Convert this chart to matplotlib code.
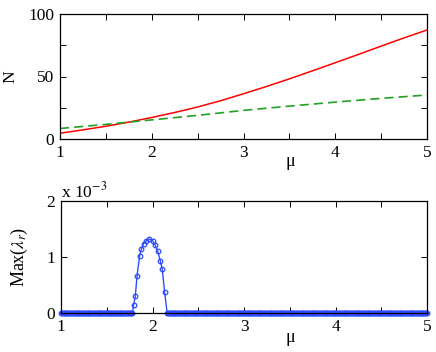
import numpy as np
import matplotlib.pyplot as plt
from matplotlib.ticker import MultipleLocator

# top panel: N versus mu
mu_red = [1.0, 1.25, 1.5, 1.75, 2.0, 2.25, 2.5, 2.75, 3.0,
          3.25, 3.5, 3.75, 4.0, 4.25, 4.5, 4.75, 5.0]
n_red = [4.6, 7.3, 10.2, 13.5, 17.2, 21.2, 25.6, 30.6, 36.2,
         42.0, 48.1, 54.5, 61.0, 67.6, 74.3, 80.9, 87.2]
mu_green = [1.0, 1.5, 2.0, 2.5, 3.0, 3.5, 4.0, 4.5, 5.0]
n_green = [8.4, 11.7, 15.3, 18.9, 22.9, 26.3, 29.5, 32.5, 35.2]

# bottom panel: max real part of eigenvalues (units of 1e-3)
mu_bump = [1.793, 1.812, 1.831, 1.859, 1.878, 1.903, 1.932, 1.965,
           2.001, 2.031, 2.056, 2.085, 2.107, 2.132]
lam_bump = [0.14, 0.30, 0.66, 1.02, 1.14, 1.24, 1.29, 1.32,
            1.29, 1.21, 1.11, 0.93, 0.78, 0.38]
mu_zero_left = np.arange(1.0, 1.781, 0.01)
mu_zero_right = np.arange(2.16, 5.001, 0.01)

mu_low = np.concatenate([mu_zero_left, mu_bump, mu_zero_right])
lam_low = np.concatenate([np.zeros(len(mu_zero_left)), lam_bump,
                          np.zeros(len(mu_zero_right))])

plt.rcParams['font.family'] = ['Liberation Serif', 'DejaVu Serif']
plt.rcParams['font.size'] = 12.5
plt.rcParams['mathtext.fontset'] = 'stix'

W, H = 436, 352
fig = plt.figure(figsize=(W / 100, H / 100), dpi=100)
ax1 = fig.add_axes([60 / W, 1 - 139 / H, 367 / W, 125 / H])
ax2 = fig.add_axes([61 / W, 1 - 313 / H, 366 / W, 112 / H])

ax1.plot(mu_red, n_red, color='#ff0000', lw=1.1)
ax1.plot(mu_green, n_green, color='#22a022', lw=1.2, ls=(0, (5.5, 3)))
ax1.set_xlim(1, 5)
ax1.set_ylim(0, 100)
ax1.set_yticks([0, 50, 100])
ax1.yaxis.set_minor_locator(MultipleLocator(25))
ax1.set_ylabel('N', labelpad=7)
fig.text(290 / W, 1 - 162 / H, 'μ', ha='center', va='center', fontsize=13)

ax2.plot(mu_low, lam_low, color='#2d4cff', lw=1.0, marker='o', ms=3.3,
         mfc='none', mec='#2d4cff', mew=0.9, clip_on=False)
ax2.set_xlim(1, 5)
ax2.set_ylim(0, 2)
ax2.set_yticks([0, 1, 2])
ax2.set_ylabel(r'Max($\lambda_r$)', labelpad=12, fontsize=13)
fig.text(290 / W, 1 - 338 / H, 'μ', ha='center', va='center', fontsize=13)
ax2.text(0.0, 1.0, r'x 10$^{-3}$', transform=ax2.transAxes,
         ha='left', va='bottom', fontsize=12.5)

for ax in (ax1, ax2):
    ax.set_xticks([1, 2, 3, 4, 5])
    ax.xaxis.set_minor_locator(MultipleLocator(0.5))
    ax.tick_params(which='both', direction='in', top=True, right=True,
                   length=4, width=0.7, labelsize=12.5, pad=4)
    for s in ax.spines.values():
        s.set_linewidth(0.9)

fig.savefig('out.png', dpi=100)
